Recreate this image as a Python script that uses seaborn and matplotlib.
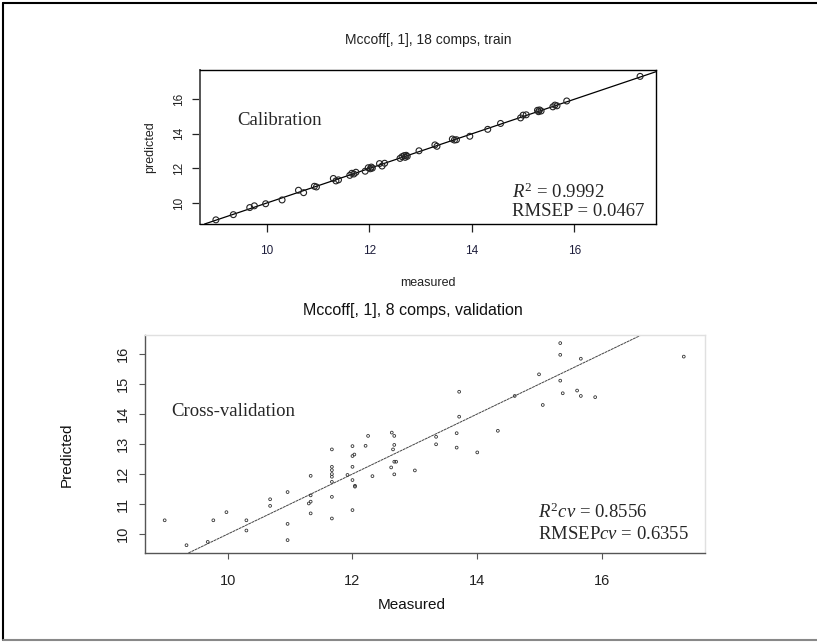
import matplotlib
matplotlib.use("Agg")
import matplotlib.pyplot as plt
import seaborn as sns
import pandas as pd
from matplotlib.lines import Line2D

# Training set: measured vs. predicted (18 components)
meas_train = [9.01, 9.35, 9.67, 9.76, 9.98, 10.30, 10.62, 10.72, 10.93, 10.97,
              11.30, 11.35, 11.40, 11.62, 11.66, 11.70, 11.74, 11.92, 11.98, 12.02,
              12.04, 12.06, 12.20, 12.25, 12.30, 12.60, 12.64, 12.68, 12.70, 12.72,
              12.74, 12.97, 13.28, 13.32, 13.62, 13.66, 13.70, 13.96, 14.31, 14.56,
              14.95, 15.00, 15.06, 15.28, 15.30, 15.32, 15.35, 15.58, 15.62, 15.66,
              15.85, 17.28]
pred_train = [9.03, 9.33, 9.74, 9.84, 9.96, 10.18, 10.74, 10.60, 10.97, 10.93,
              11.42, 11.28, 11.34, 11.60, 11.72, 11.68, 11.78, 11.84, 12.04, 11.98,
              12.08, 12.02, 12.28, 12.14, 12.30, 12.58, 12.68, 12.74, 12.64, 12.76,
              12.70, 13.02, 13.36, 13.28, 13.70, 13.64, 13.66, 13.86, 14.26, 14.60,
              14.92, 15.08, 15.10, 15.36, 15.28, 15.38, 15.32, 15.56, 15.66, 15.62,
              15.90, 17.32]

# Cross-validation: measured vs. predicted (8 components)
meas_cv = [8.99, 9.34, 9.68, 9.77, 9.98, 10.30, 10.30, 10.68, 10.68, 10.96,
           10.96, 10.96, 11.33, 11.33, 11.33, 11.33, 11.30, 11.67, 11.67, 11.67,
           11.67, 11.67, 11.67, 11.67, 11.67, 12.00, 12.00, 12.03, 12.00, 12.00,
           12.04, 12.04, 12.00, 11.92, 12.21, 12.25, 12.32, 12.63, 12.67, 12.67,
           12.65, 12.67, 12.70, 12.62, 12.67, 13.00, 13.34, 13.34, 13.67, 13.67,
           13.71, 13.71, 14.00, 14.33, 14.60, 14.99, 15.05, 15.33, 15.33, 15.33,
           15.37, 15.60, 15.66, 15.66, 15.89, 17.31]
pred_cv = [10.46, 9.63, 9.74, 10.46, 10.73, 10.46, 10.12, 11.16, 10.94, 11.40,
           10.34, 9.80, 11.94, 11.29, 11.08, 10.69, 11.02, 12.82, 12.24, 12.13,
           12.00, 11.91, 11.74, 11.24, 10.52, 12.93, 12.60, 12.65, 12.24, 11.80,
           11.61, 11.58, 10.80, 11.97, 12.94, 13.27, 11.93, 13.38, 13.27, 12.97,
           12.82, 12.41, 12.41, 12.22, 11.99, 12.12, 13.24, 12.99, 13.36, 12.88,
           14.74, 13.91, 12.72, 13.44, 14.60, 15.32, 14.30, 16.36, 15.97, 15.11,
           14.69, 14.78, 15.84, 14.60, 14.56, 15.91]

r2_train, rmsep_train = 0.9992, 0.0467
r2_cv, rmsep_cv = 0.8556, 0.6355

train_ticks = [10, 12, 14, 16]
cv_xticks = [10, 12, 14, 16]
cv_yticks = [10, 11, 12, 13, 14, 15, 16]

sns.set_theme(style="white")
plt.rcParams['font.family'] = ['Liberation Sans', 'DejaVu Sans']
plt.rcParams['mathtext.fontset'] = 'custom'
plt.rcParams['mathtext.rm'] = 'Liberation Serif'
plt.rcParams['mathtext.it'] = 'Liberation Serif:italic'

df_train = pd.DataFrame({"measured": meas_train, "predicted": pred_train})
df_cv = pd.DataFrame({"measured": meas_cv, "predicted": pred_cv})

fig = plt.figure(figsize=(8.17, 6.42), dpi=100)
fig.patch.set_facecolor("white")

# ---- calibration panel ----
ax1 = fig.add_axes([0.2448, 0.6511, 0.5581, 0.2399])
ax1.axline((10, 10), slope=1, color="black", lw=0.9, zorder=1)
sns.scatterplot(data=df_train, x="measured", y="predicted", ax=ax1,
                marker="o", s=18, facecolors="none", edgecolor="#222222",
                linewidth=0.8, zorder=2)
ax1.set_xlim(8.70, 17.59)
ax1.set_ylim(8.79, 17.69)
ax1.set_xticks(train_ticks)
ax1.set_yticks(train_ticks)
ax1.set_xlabel("")
ax1.set_ylabel("")
for s in ax1.spines.values():
    s.set_color("black")
    s.set_linewidth(1.0)
ax1.spines["left"].set_color("#555555")
ax1.spines["left"].set_linewidth(1.4)
ax1.tick_params(axis="both", which="both", direction="out", length=6, width=0.9,
                color="#222222", labelsize=8.5, bottom=True, left=True)
ax1.tick_params(axis="x", pad=9, labelcolor="#1e1e3c")
ax1.tick_params(axis="y", pad=5, labelcolor="#222222")
for lab in ax1.get_yticklabels():
    lab.set_rotation(90)
    lab.set_va("center")

# ---- cross-validation panel ----
ax2 = fig.add_axes([0.1775, 0.1386, 0.6854, 0.3396])
ax2.axline((10, 10), slope=1, color="#444444", lw=0.7, ls=(0, (3, 0.6)), zorder=1)
sns.scatterplot(data=df_cv, x="measured", y="predicted", ax=ax2,
                marker="o", s=4, facecolors="none", edgecolor="#333333",
                linewidth=0.6, zorder=2)
ax2.set_xlim(8.675, 17.65)
ax2.set_ylim(9.37, 16.63)
ax2.set_xticks(cv_xticks)
ax2.set_yticks(cv_yticks)
ax2.set_xlabel("")
ax2.set_ylabel("")
ax2.spines["left"].set_color("#555555")
ax2.spines["bottom"].set_color("#555555")
ax2.spines["top"].set_color("#e0e0e0")
ax2.spines["right"].set_color("#e0e0e0")
for s in ax2.spines.values():
    s.set_linewidth(1.0)
ax2.tick_params(axis="both", which="both", direction="out", length=4, width=0.8,
                color="#555555", labelsize=10.5, labelcolor="#222222",
                bottom=True, left=True)
ax2.tick_params(axis="x", pad=11)
ax2.tick_params(axis="y", pad=7)
for lab in ax2.get_yticklabels():
    lab.set_rotation(90)
    lab.set_va("center")

# ---- titles and axis labels ----
fig.text(0.5239, 0.9377, "Mccoff[, 1], 18 comps, train", ha="center", va="center",
         fontsize=10, color="#222222")
fig.text(0.5239, 0.5592, "measured", ha="center", va="center", fontsize=9, color="#222222")
fig.text(0.1836, 0.771, "predicted", ha="center", va="center", rotation=90,
         fontsize=9, color="#222222")
fig.text(0.5055, 0.5156, "Mccoff[, 1], 8 comps, validation", ha="center", va="center",
         fontsize=11.5, color="#111111")
fig.text(0.504, 0.0576, "Measured", ha="center", va="center", fontsize=11, color="#111111")
fig.text(0.082, 0.291, "Predicted", ha="center", va="center", rotation=90,
         fontsize=11, color="#111111")

# ---- annotations ----
serif = ['Liberation Serif', 'DejaVu Serif']
fs_ann = 13.5
fig.text(0.291, 0.812, "Calibration", ha="left", va="center", fontsize=fs_ann, family=serif)
fig.text(0.6267, 0.701, r"$R^2$ = " + f"{r2_train:.4f}", ha="left", va="center",
         fontsize=fs_ann, family=serif)
fig.text(0.6267, 0.670, f"RMSEP = {rmsep_train:.4f}", ha="left", va="center",
         fontsize=fs_ann, family=serif)
fig.text(0.209, 0.3587, "Cross-validation", ha="left", va="center", fontsize=fs_ann,
         family=serif)
fig.text(0.6585, 0.2025, r"$R^2cv$ = " + f"{r2_cv:.4f}", ha="left", va="center",
         fontsize=fs_ann, family=serif)
fig.text(0.6585, 0.1667, r"RMSEP$cv$ = " + f"{rmsep_cv:.4f}", ha="left", va="center",
         fontsize=fs_ann, family=serif)

# outer frame: left and top in black, bottom in gray
W, H = 817, 642
fig.lines.append(Line2D([3 / W, 3 / W], [1 - 3 / H, 1 - 640 / H], transform=fig.transFigure,
                        color="black", lw=1.5))
fig.lines.append(Line2D([3 / W, 1.0], [1 - 3 / H, 1 - 3 / H], transform=fig.transFigure,
                        color="black", lw=1.5))
fig.lines.append(Line2D([3 / W, 1.0], [1 - 640 / H, 1 - 640 / H], transform=fig.transFigure,
                        color="#888888", lw=1.5))

fig.savefig("out.png", dpi=100, facecolor="white")
